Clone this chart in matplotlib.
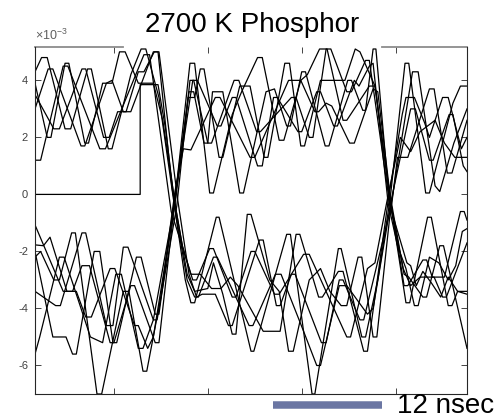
import numpy as np
import matplotlib
matplotlib.use("Agg")
import matplotlib.pyplot as plt
from matplotlib.transforms import blended_transform_factory

plt.rcParams['font.family'] = ['Liberation Sans', 'DejaVu Sans']
plt.rcParams['axes.unicode_minus'] = False
plt.rcParams['mathtext.fontset'] = 'custom'
plt.rcParams['mathtext.rm'] = 'Liberation Sans'

# eye diagram traces, (time in ns, signal in 1e-3 units)
# high -> low -> high
h1 = [(0, 4.3), (0.7, 4.8), (1.3, 4.8), (3.2, 2.3), (3.8, 2.3), (5.6, 4.4), (6.0, 4.4), (7.8, 1.6),
      (8.2, 1.6), (9.6, 3.4), (10.2, 4.2), (11.3, 5.1), (11.8, 5.1), (13.2, 3.4), (14.8, -0.3),
      (16.0, -3.0), (16.6, -3.8), (17.0, -3.8), (19.3, -0.8), (19.6, -0.8), (23.0, -5.5), (23.3, -5.5),
      (26.8, -1.4), (27.2, -1.4), (29.5, -7.0), (29.8, -7.0), (32.3, -1.9), (32.6, -1.9), (34.8, -5.0),
      (35.2, -5.0), (36.5, -3.0), (37.8, -0.2), (39.4, 4.6), (39.8, 4.6), (41.6, 0.05), (42.0, 0.05),
      (44.5, 3.2), (45.3, 3.8), (46.0, 3.8)]
h2 = [(0, 3.9), (1.3, 2.0), (1.7, 2.0), (3.2, 4.6), (3.6, 4.6), (5.3, 1.8), (5.7, 1.8), (7.2, 3.9),
      (8.2, 3.9), (9.0, 5.0), (9.6, 5.0), (11.0, 3.9), (12.6, 3.9), (13.6, 2.6), (15.0, -0.5),
      (16.2, -2.8), (17.0, -3.4), (18.4, -3.3), (19.0, -2.4), (20.0, -3.5), (21.0, -4.9), (21.4, -4.9),
      (22.6, -0.7), (23.0, -0.7), (25.0, -3.0), (26.0, -3.4), (27.0, -5.5), (27.5, -5.5), (29.2, -3.0),
      (30.4, -2.6), (31.4, -3.4), (32.6, -3.9), (33.2, -3.9), (34.4, -2.2), (34.8, -2.2), (36.0, -5.0),
      (36.4, -5.0), (37.9, -0.4), (40.2, 4.3), (40.8, 4.3), (42.6, 0.3), (43.1, 0.1), (44.6, 1.8),
      (46.0, 3.0)]
h3 = [(0, 3.5), (2.0, 2.3), (2.6, 2.3), (5.0, 4.4), (5.4, 4.4), (7.3, 2.0), (7.9, 2.0), (8.8, 2.9),
      (9.7, 2.9), (11.0, 4.3), (11.6, 4.3), (12.7, 5.0), (13.1, 5.0), (14.6, 0.2), (15.7, -1.8),
      (16.6, -2.8), (17.6, -2.8), (18.8, -3.3), (19.8, -3.3), (20.8, -2.9), (21.6, -3.2), (24.3, -4.8),
      (26.1, -4.8), (27.8, -1.4), (28.2, -1.4), (30.2, -3.6), (30.6, -3.6), (32.3, -2.7), (32.8, -2.7),
      (35.0, -5.5), (35.4, -5.5), (37.7, 0.0), (39.1, 2.8), (39.5, 3.4), (40.4, 3.4), (41.5, 2.5),
      (42.0, 2.0), (43.4, 3.4), (44.0, 3.4), (45.4, 1.6), (46.0, 2.0)]
h4 = [(0, 3.0), (1.4, 4.4), (1.9, 4.4), (4.9, 1.7), (5.3, 1.7), (7.6, 3.9), (8.2, 4.0), (9.4, 2.9),
      (10.2, 2.9), (12.6, 5.0), (13.2, 5.0), (15.2, -0.2), (16.4, -2.8), (17.2, -3.6), (17.8, -3.5),
      (19.2, -3.5), (20.6, -4.6), (21.0, -4.6), (23.9, -1.6), (24.3, -1.6), (25.7, -3.9), (26.1, -3.9),
      (27.3, -2.8), (27.7, -2.8), (30.5, -5.2), (31.0, -5.2), (32.4, -3.0), (32.8, -3.0), (34.6, -4.4),
      (35.0, -4.4), (38.0, -0.3), (38.6, 1.3), (39.7, 1.3), (42.0, 3.7), (42.5, 3.7), (43.9, 0.75),
      (44.4, 0.75), (46.0, 2.6)]
h5 = [(0, 1.2), (0.6, 1.2), (3.0, 4.5), (3.5, 4.5), (6.9, 1.6), (7.5, 1.6), (11.6, 4.9), (12.2, 4.9),
      (14.5, -0.6), (16.8, -3.0), (17.2, -3.0), (18.6, -1.9), (19.0, -1.9), (21.0, -3.6), (21.4, -3.6),
      (23.0, -2.0), (23.4, -2.0), (25.5, -3.5), (26.0, -3.5), (28.6, -2.1), (29.2, -2.1), (33.2, -5.0),
      (33.6, -5.0), (35.4, -2.6), (36.2, -2.4), (37.5, -0.2), (38.9, 2.0), (40.0, 1.5), (41.0, 2.2),
      (42.6, 2.6), (43.6, 1.8), (44.7, 1.3), (46.0, 1.3)]
# trace that sits at zero until the acquisition starts
step = [(0, 0), (11.2, 0), (11.2, 3.85), (13.1, 3.85), (13.9, 2.3), (15.0, -0.7), (16.2, -3.0),
        (17.0, -3.6), (17.4, -3.6), (19.0, -2.2), (19.4, -2.2), (22.8, -4.6), (23.2, -4.6), (25.6, -2.8),
        (26.2, -2.8), (28.6, -4.8), (30.0, -6.0), (30.4, -6.0), (32.4, -3.2), (33.2, -3.2), (35.4, -4.2),
        (36.0, -4.0), (38.0, -0.1), (40.0, 3.0), (40.5, 3.0), (42.0, 1.2), (42.4, 1.2), (44.1, 2.8),
        (44.5, 2.8), (45.6, 1.0), (46.0, 0.8)]

# low -> high -> low
l1 = [(0, -1.07), (1.2, -2.0), (3.0, -3.4), (4.0, -3.4), (5.0, -2.5), (5.8, -2.5), (8.0, -5.2),
      (8.4, -5.2), (10.2, -3.2), (10.6, -3.2), (12.8, -5.2), (13.2, -5.2), (14.8, -0.5), (16.5, 4.6),
      (17.0, 4.6), (18.6, 0.05), (19.0, 0.05), (21.0, 2.8), (22.0, 3.6), (23.7, 4.8), (24.2, 4.8),
      (26.0, 1.9), (26.5, 1.9), (28.3, 4.0), (29.0, 4.2), (30.3, 5.1), (31.1, 5.1), (32.8, 2.6),
      (33.2, 2.6), (35.6, 3.8), (36.2, 3.8), (37.8, -0.2), (39.5, -3.8), (39.9, -3.8), (41.8, -0.8),
      (42.2, -0.8), (44.0, -3.9), (44.4, -3.9), (45.0, -3.4), (46.0, -3.4)]
l2 = [(0, -1.77), (0.9, -1.8), (1.6, -1.5), (3.4, -3.4), (4.4, -3.4), (5.4, -4.3), (6.0, -4.3),
      (8.0, -2.6), (8.5, -2.6), (10.6, -4.6), (11.0, -4.6), (12.0, -5.4), (12.6, -5.0), (15.0, -0.1),
      (16.3, 3.4), (17.0, 3.4), (17.6, 4.4), (18.0, 4.4), (19.6, 1.3), (20.0, 1.3), (21.8, 3.8),
      (22.9, 3.8), (24.4, 1.3), (24.8, 1.3), (26.6, 4.6), (27.1, 4.6), (28.3, 1.7), (28.7, 1.7),
      (30.4, 4.0), (33.0, 4.0), (34.1, 5.1), (34.6, 5.0), (36.2, 3.8), (37.9, -0.3), (39.3, -3.2),
      (39.7, -3.2), (41.3, -2.3), (41.7, -2.3), (42.3, -2.9), (43.6, -2.9), (45.3, -0.6), (45.7, -0.6),
      (46.0, -0.9)]
l3 = [(0, -2.0), (1.9, -5.0), (3.3, -5.0), (4.0, -5.6), (4.4, -5.6), (6.3, -2.0), (6.9, -2.0),
      (8.3, -5.2), (8.7, -5.2), (10.8, -2.2), (11.3, -2.2), (12.8, -4.2), (13.2, -4.2), (14.7, -0.6),
      (16.4, 3.6), (16.9, 3.6), (18.0, 1.8), (18.4, 1.8), (18.9, 3.6), (20.0, 3.6), (21.8, 0.05),
      (22.2, 0.05), (24.6, 3.6), (25.5, 3.7), (26.8, 2.4), (27.2, 2.4), (28.4, 4.3), (28.8, 4.3),
      (30.9, 1.7), (31.3, 1.7), (33.3, 4.0), (33.7, 4.0), (34.9, 2.95), (35.2, 2.95), (36.0, 5.1),
      (36.3, 5.1), (37.7, -0.1), (39.2, -2.6), (40.0, -3.2), (41.0, -2.9), (42.5, -2.9), (43.4, -3.6),
      (43.8, -3.6), (46.0, -1.7)]
l4 = [(0, -2.2), (0.6, -2.0), (2.0, -3.0), (2.6, -3.0), (3.9, -1.35), (4.3, -1.35), (6.6, -7.0),
      (7.1, -7.0), (9.4, -3.4), (10.0, -3.4), (11.5, -6.2), (11.9, -6.2), (13.4, -3.6), (14.9, 0.1),
      (15.8, 1.6), (16.6, 1.56), (19.2, 3.4), (19.7, 3.4), (22.9, 1.3), (23.4, 1.3), (27.0, 4.0),
      (28.3, 4.0), (29.8, 2.9), (30.2, 2.9), (31.0, 3.2), (31.6, 3.1), (33.5, 1.8), (34.0, 1.8),
      (36.0, 3.7), (36.5, 3.6), (37.8, 0.0), (39.3, -2.8), (39.8, -2.9), (41.3, -3.6), (41.7, -3.6),
      (43.1, -1.8), (43.5, -1.8), (46.0, -5.4)]
l5 = [(0, -3.4), (2.2, -3.9), (2.7, -3.9), (5.0, -1.35), (5.4, -1.35), (7.6, -4.6), (8.3, -4.6),
      (9.4, -1.85), (9.9, -1.85), (12.6, -4.4), (13.0, -4.4), (15.1, -0.4), (16.5, 4.0), (16.9, 4.0),
      (18.4, 1.8), (18.8, 1.8), (21.2, 4.0), (21.7, 4.0), (23.6, 2.2), (24.0, 2.2), (27.3, 3.4),
      (27.8, 3.4), (29.2, 2.0), (29.6, 2.0), (31.0, 5.1), (31.5, 5.1), (33.2, 3.6), (33.7, 3.6),
      (35.2, 4.7), (35.6, 4.7), (37.8, -0.4), (39.6, -2.4), (40.0, -2.5), (40.6, -3.2), (41.3, -2.7),
      (42.2, -3.1), (43.2, -3.6), (44.0, -2.9), (45.0, -3.4), (46.0, -3.5)]
l6 = [(0, -5.6), (0.5, -5.0), (2.6, -2.2), (3.1, -2.2), (5.9, -5.0), (7.2, -5.2), (8.6, -2.8),
      (9.2, -2.8), (11.0, -5.4), (11.5, -5.4), (12.6, -4.4), (14.6, -0.8), (16.8, 4.0), (17.3, 4.0),
      (19.4, 2.4), (19.8, 2.4), (21.0, 3.4), (21.4, 3.4), (23.7, 1.0), (24.2, 1.0), (25.4, 3.4),
      (25.8, 3.4), (28.0, 2.2), (28.4, 2.2), (30.0, 3.6), (30.4, 3.6), (31.8, 2.4), (32.2, 2.4),
      (34.0, 4.0), (34.5, 3.8), (35.6, 4.5), (36.0, 4.6), (37.6, -0.3), (38.6, -1.8), (39.5, -2.6),
      (40.4, -3.9), (40.8, -3.9), (42.0, -2.2), (43.0, -2.4), (44.0, -3.0), (44.8, -2.5), (45.5, -1.3),
      (46.0, -1.2)]

traces = [h1, h2, h3, h4, h5, step, l1, l2, l3, l4, l5, l6]

y_ticks = [-6, -4, -2, 0, 2, 4]
x_ticks = [8.4, 18.4, 28.4, 38.4]      # 10 ns grid, unlabelled
scalebar_ns = (25.3, 37.0)
scalebar_label = '12 nsec'
title = '2700 K Phosphor'

fig = plt.figure(figsize=(4.98, 4.18), dpi=100)
ax = fig.add_axes([35 / 498, 24 / 418, 432 / 498, 347 / 418])

for tr in traces:
    t, v = np.array(tr).T
    ax.plot(t, v, color='black', lw=0.9)

ax.set_xlim(0, 46)
ax.set_ylim(-7.0, 5.17)
ax.set_xticks(x_ticks)
ax.set_xticklabels([])
ax.set_yticks(y_ticks)
ax.set_yticklabels([str(v) for v in y_ticks])
ax.tick_params(direction='in', length=4, width=0.6, color='#262626', labelcolor='#404040',
               labelsize=8, pad=5, top=True, right=True)

for side in ['left', 'right', 'bottom']:
    ax.spines[side].set_color('#262626')
    ax.spines[side].set_linewidth(0.8)
ax.spines['top'].set_visible(False)
# only two pieces of the top frame are left on the original figure
ax.plot([0, 0.204], [1, 1], transform=ax.transAxes, color='#8c8c8c', lw=1.3, clip_on=False)
ax.plot([0.803, 1], [1, 1], transform=ax.transAxes, color='#8c8c8c', lw=1.3, clip_on=False)

ax.text(0, 1.012, r'$\times10^{-3}$', transform=ax.transAxes, fontsize=9, color='#606060',
        ha='left', va='bottom')

fig.text(252 / 498, 1 - 31.7 / 418, title, ha='center', va='baseline', fontsize=20)

# scale bar under the axes
trans = blended_transform_factory(ax.transData, ax.transAxes)
ax.plot(scalebar_ns, [-0.033, -0.033], transform=trans, color='#6b76a3', lw=5.4,
        solid_capstyle='butt', clip_on=False)
ax.text(38.5, -0.054, scalebar_label, transform=trans, fontsize=20, ha='left', va='baseline')

fig.savefig('out.png', dpi=100)
